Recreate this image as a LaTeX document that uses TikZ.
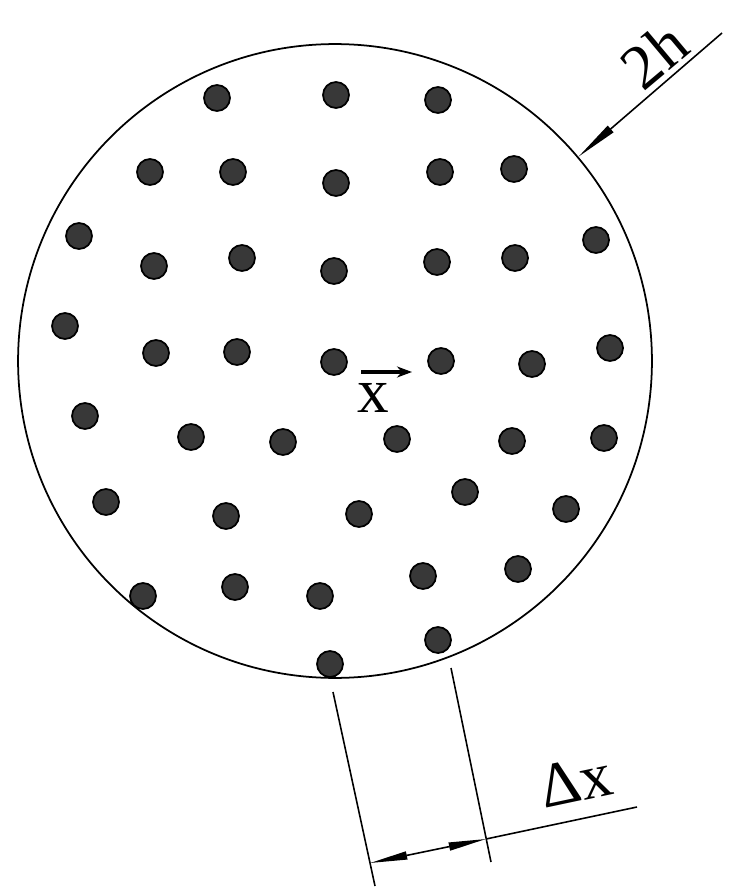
\documentclass[tikz,border=0pt]{standalone}
\usepackage{fontspec}
\usetikzlibrary{arrows.meta}
\newfontfamily\lblfont{Liberation Serif}

\begin{document}
\begin{tikzpicture}[
    x=0.02cm, y=-0.02cm,
    disk/.style={
        circle, draw=black, line width=1pt,
        minimum size=12.68cm, inner sep=0pt
    },
    dot/.style={
        circle, draw=black, fill=black!78, line width=1pt,
        minimum size=0.52cm, inner sep=0pt
    },
    thinline/.style={line width=0.9pt, black},
    leader/.style={thinline, -{Triangle[length=0.85cm, width=0.17cm]}},
    dimarr/.style={thinline, {Triangle[length=0.75cm, width=0.16cm]}-{Triangle[length=0.75cm, width=0.16cm]}},
    lbl/.style={font=\lblfont\fontsize{36}{36}\selectfont, inner sep=0pt},
]
\useasboundingbox (0,0) rectangle (731,888);

%% Disk
\node[disk] (disk) at (335,361) {};

%% Particles
\foreach \px/\py [count=\i] in {
    217/98, 336/95, 438/100,
    150/172, 233/172, 336/183, 440/172, 514/169,
    79/236, 154/266, 242/258, 334/271, 437/262, 515/258, 596/240,
    65/326, 156/353, 237/352, 334/362, 441/361, 532/364, 610/348,
    85/416, 191/437, 283/442, 397/439, 512/441, 604/438,
    106/502, 226/516, 359/514, 465/492, 566/509,
    143/596, 235/587, 320/596, 423/576, 518/569,
    330/664, 438/640}
    \node[dot] (d\i) at (\px,\py) {};

%% Position vector
\coordinate (xa) at (361,372);
\coordinate (xb) at (412,372);
\draw[line width=2pt, -{Stealth[length=0.3cm, width=0.22cm]}] (xa) -- (xb);
\node[lbl] (xlbl) at (373,398) {x};

%% Diameter 2h
\coordinate (hend) at (722,33);
\draw[leader] (hend) -- (disk.40);
\node[lbl, rotate=40] (hlbl) at (654,55) {2h};

%% Spacing dx
\coordinate (e1a) at (333,692);
\coordinate (e1b) at (375,886);
\coordinate (e2a) at (451,668);
\coordinate (e2b) at (491,862);
\coordinate (m1) at (370,863);
\coordinate (m2) at (486,839);
\coordinate (mend) at (637,807);
\draw[thinline] (e1a) -- (e1b);
\draw[thinline] (e2a) -- (e2b);
\draw[dimarr] (m1) -- (m2);
\draw[thinline] (m2) -- (mend);
\node[lbl, rotate=12] (dxlbl) at (576,781) {Δx};

\end{tikzpicture}
\end{document}
